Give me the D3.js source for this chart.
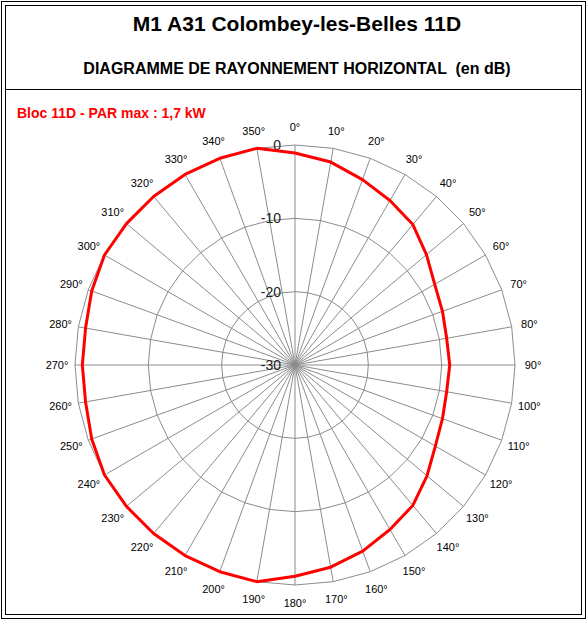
<!DOCTYPE html>
<html><head><meta charset="utf-8">
<script src="https://cdn.jsdelivr.net/npm/d3@7"></script>
<style>body{margin:0;background:#fff}</style></head>
<body><svg id="c" width="587" height="620"></svg>
<script>
const angles = d3.range(0, 360, 10);
const dbValues = [-1.1,-1.9,-3.1,-4.1,-5.0,-6.6,-8.0,-8.6,-9.0,-8.9,-9.0,-8.6,-7.9,-6.5,-5.0,-4.1,-3.0,-2.0,
                  -1.2,0,0,0,0,0,0,-0.5,-1.0,-1.0,-1.0,-0.5,0,0,0,0,0,0];
const ringTicks = [0,-10,-20,-30];
const title = "M1 A31 Colombey-les-Belles 11D";
const subtitle = "DIAGRAMME DE RAYONNEMENT HORIZONTAL  (en dB)";
const seriesLabel = "Bloc 11D - PAR max : 1,7 kW";

const svg = d3.select("#c");
const F = "Liberation Sans, Arial, sans-serif";
svg.append("rect").attr("x",1.5).attr("y",1.5).attr("width",584).attr("height",617).attr("fill","none").attr("stroke","#000");
svg.append("rect").attr("x",5.5).attr("y",5.5).attr("width",576).attr("height",609).attr("fill","none").attr("stroke","#000");
svg.append("line").attr("x1",5.5).attr("x2",581.5).attr("y1",89.5).attr("y2",89.5).attr("stroke","#000");
svg.append("text").attr("x",297).attr("y",31).attr("text-anchor","middle").attr("font-family",F).attr("font-weight","bold").attr("font-size",21).text(title);
svg.append("text").attr("x",297).attr("y",74).attr("text-anchor","middle").attr("font-family",F).attr("font-weight","bold").attr("font-size",16).attr("xml:space","preserve").text(subtitle);
svg.append("text").attr("x",17).attr("y",118).attr("font-family",F).attr("font-weight","bold").attr("font-size",14).attr("fill","#ff0000").text(seriesLabel);

const cx=295, cy=365, R=220;
const r = d3.scaleLinear().domain([-30,0]).range([0,R]);
const a = d3.scaleLinear().domain([0,360]).range([0,2*Math.PI]);
const g = svg.append("g").attr("transform",`translate(${cx},${cy})`);
const pt = (ang, rad) => [rad*Math.sin(a(ang)), -rad*Math.cos(a(ang))];

g.selectAll(".spoke").data(angles).join("line")
 .attr("x1",0).attr("y1",0)
 .attr("x2",d=>pt(d,R)[0]).attr("y2",d=>pt(d,R)[1])
 .attr("stroke","#8c8c8c").attr("stroke-width",1);
const ringLine = d3.line().curve(d3.curveLinearClosed);
g.selectAll(".ring").data(ringTicks.filter(t=>t>-30)).join("path")
 .attr("d",t=>ringLine(angles.map(an=>pt(an,r(t)))))
 .attr("fill","none").attr("stroke","#8c8c8c").attr("stroke-width",1);
g.selectAll(".rl").data(ringTicks).join("text")
 .attr("x",-14).attr("y",t=>-r(t)+5).attr("text-anchor","end")
 .attr("font-family",F).attr("font-size",14).attr("fill","#222").text(t=>t);
g.selectAll(".al").data(angles).join("text")
 .attr("x",d=>pt(d,238)[0]).attr("y",d=>pt(d,238)[1]+4)
 .attr("text-anchor","middle").attr("font-family",F).attr("font-size",11).attr("fill","#000")
 .text(d=>d+"°");
g.append("path")
 .attr("d",ringLine(angles.map((an,i)=>pt(an,r(dbValues[i])))))
 .attr("fill","none").attr("stroke","#ff0000").attr("stroke-width",3).attr("stroke-linejoin","round");
</script></body></html>
